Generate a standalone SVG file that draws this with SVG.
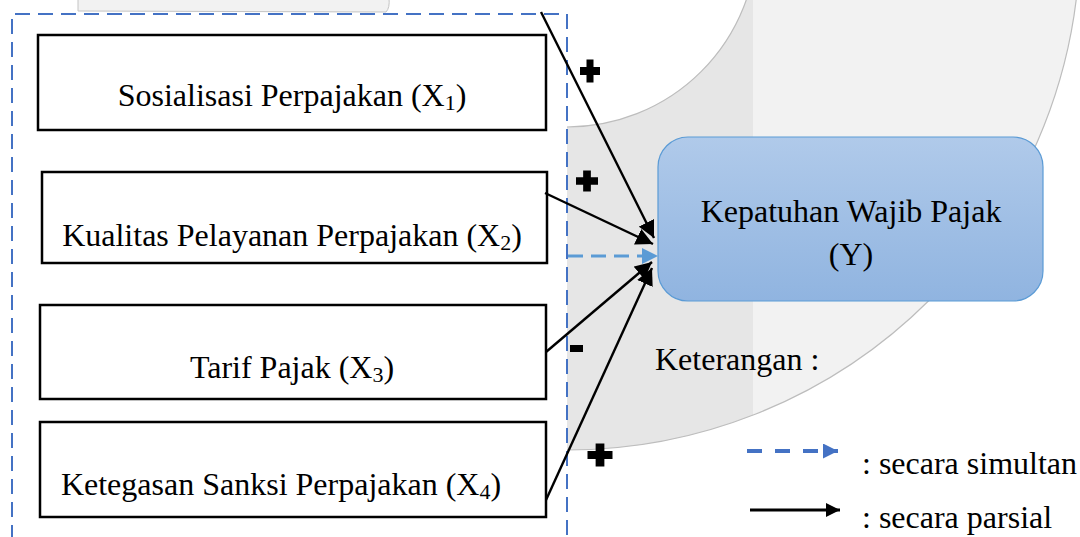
<svg xmlns="http://www.w3.org/2000/svg" xmlns:xlink="http://www.w3.org/1999/xlink" width="1080" height="537" viewBox="0 0 1080 537">
<style>
.box{fill:#fff;stroke:#000;stroke-width:2.5}
.lbl{font-family:"Liberation Serif","Times New Roman",serif;font-size:32px;fill:#000}
.sub{font-size:22px}
.conn{stroke:#000;stroke-width:2.4;fill:none}
.sim{stroke:#5b9bd5;stroke-width:3;fill:none;stroke-dasharray:15 8}
.sign{fill:#000}
</style>
<defs>
<linearGradient id="gY" x1="0" y1="0" x2="0" y2="1">
<stop offset="0" stop-color="#b0caea"/>
<stop offset="1" stop-color="#90b4e0"/>
</linearGradient>
<clipPath id="clipL"><rect x="0" y="0" width="753" height="537"/></clipPath>
<marker id="ah" viewBox="0 0 10 10" refX="10" refY="5" markerWidth="17" markerHeight="17" markerUnits="userSpaceOnUse" orient="auto">
<path d="M0,0 L10,5 L0,10 z" fill="#000"/>
</marker>
<marker id="ahB" viewBox="0 0 10 10" refX="10" refY="5" markerWidth="16" markerHeight="16" markerUnits="userSpaceOnUse" orient="auto">
<path d="M0,0 L10,5 L0,10 z" fill="#5b9bd5"/>
</marker>
<marker id="ahL" viewBox="0 0 10 10" refX="10" refY="5" markerWidth="15" markerHeight="15" markerUnits="userSpaceOnUse" orient="auto">
<path d="M0,0 L10,5 L0,10 z" fill="#4472c4"/>
</marker>
<marker id="ahK" viewBox="0 0 10 10" refX="10" refY="5" markerWidth="14" markerHeight="14" markerUnits="userSpaceOnUse" orient="auto">
<path d="M0,0 L10,5 L0,10 z" fill="#000"/>
</marker>
<path id="plus" d="M-3.5,-10 h7 v6.5 h6.5 v7 h-6.5 v6.5 h-7 v-6.5 h-6.5 v-7 h6.5 z"/>
</defs>

<g id="background">
<path id="arcband" d="M1080,-63 A513,513 0 0 1 567,450 L567,127 A190,190 0 0 0 757,-63 Z" fill="#f2f2f2"/>
<path d="M1080,-63 A513,513 0 0 1 567,450 L567,127 A190,190 0 0 0 757,-63 Z" fill="#e6e6e6" clip-path="url(#clipL)"/>
<path d="M1080,-63 A513,513 0 0 1 567,450 M567,127 A190,190 0 0 0 757,-63" fill="none" stroke="#bdbdbd" stroke-width="1.2"/>
<path d="M78,-2 L78,11 L386,12 Q390,8 389,-2" fill="#f2f2f2" stroke="#c4c4c4" stroke-width="1"/>
</g>

<g id="group-frame">
<path d="M12,540 L12,14 L567,14 L567,540" fill="none" stroke="#4472c4" stroke-width="2" stroke-dasharray="15 8"/>
</g>

<g id="node-x1">
<rect class="box" x="38" y="35" width="508" height="95"/>
<text class="lbl" x="292" y="106" text-anchor="middle">Sosialisasi Perpajakan (X<tspan class="sub" dy="4">1</tspan><tspan dy="-4">)</tspan></text>
</g>
<g id="node-x2">
<rect class="box" x="42" y="172" width="505" height="91"/>
<text class="lbl" x="292" y="246" text-anchor="middle">Kualitas Pelayanan Perpajakan (X<tspan class="sub" dy="4">2</tspan><tspan dy="-4">)</tspan></text>
</g>
<g id="node-x3">
<rect class="box" x="40" y="305" width="506" height="94"/>
<text class="lbl" x="292" y="378" text-anchor="middle">Tarif Pajak (X<tspan class="sub" dy="4">3</tspan><tspan dy="-4">)</tspan></text>
</g>
<g id="node-x4">
<rect class="box" x="40" y="422" width="506" height="95"/>
<text class="lbl" x="281" y="495" text-anchor="middle">Ketegasan Sanksi Perpajakan (X<tspan class="sub" dy="4">4</tspan><tspan dy="-4">)</tspan></text>
</g>
<g id="node-y">
<rect x="658" y="137" width="385" height="164" rx="30" ry="30" fill="url(#gY)" stroke="#5b9bd5" stroke-width="1.2"/>
<text class="lbl" x="851" y="222" text-anchor="middle">Kepatuhan Wajib Pajak</text>
<text class="lbl" x="851" y="265" text-anchor="middle">(Y)</text>
</g>

<g id="connectors">
<line class="sim" x1="568" y1="256" x2="658" y2="256" marker-end="url(#ahB)"/>
<line class="conn" x1="541" y1="12" x2="654" y2="238" marker-end="url(#ah)"/>
<line class="conn" x1="545" y1="193" x2="653" y2="244" marker-end="url(#ah)"/>
<line class="conn" x1="546" y1="352" x2="652" y2="262" marker-end="url(#ah)"/>
<line class="conn" x1="546" y1="500" x2="652" y2="268" marker-end="url(#ah)"/>
</g>

<g id="signs">
<use xlink:href="#plus" class="sign" transform="translate(590,71) scale(1,1.15)"/>
<use xlink:href="#plus" class="sign" transform="translate(587,181) scale(1.1,1.05)"/>
<rect class="sign" x="570" y="345" width="13" height="7"/>
<use xlink:href="#plus" class="sign" transform="translate(600,455) scale(1.25,1.15)"/>
</g>

<g id="legend">
<text class="lbl" x="655" y="370">Keterangan :</text>
<line x1="747" y1="451" x2="838" y2="451" stroke="#4472c4" stroke-width="4" stroke-dasharray="15 13" marker-end="url(#ahL)"/>
<text class="lbl" x="862" y="474">: secara simultan</text>
<line x1="750" y1="510" x2="840" y2="510" stroke="#000" stroke-width="3" marker-end="url(#ahK)"/>
<text class="lbl" x="862" y="528">: secara parsial</text>
</g>
</svg>
